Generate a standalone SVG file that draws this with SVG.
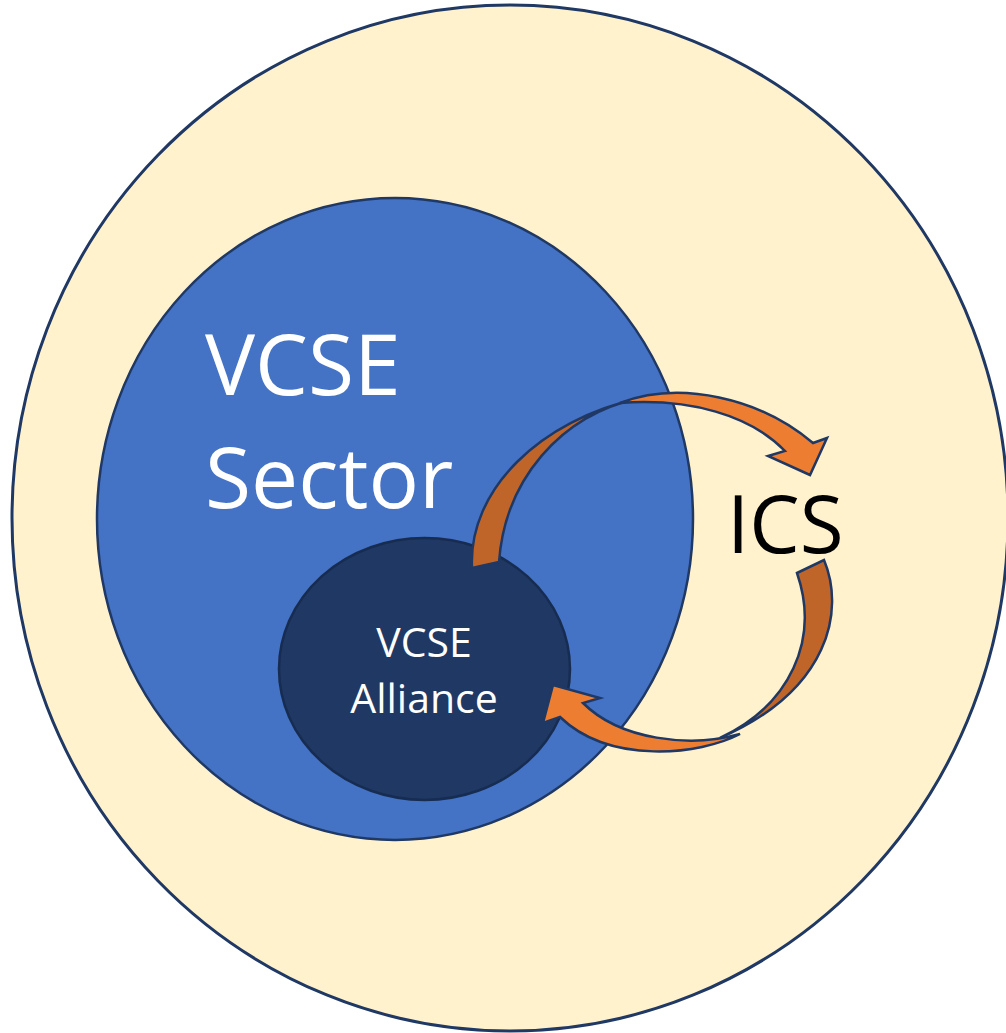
<svg xmlns="http://www.w3.org/2000/svg" width="1006" height="1033" viewBox="0 0 1006 1033">
<style>
.outer{fill:#FFF2CC;stroke:#1F3864;stroke-width:3}
.sector{fill:#4472C4;stroke:#1F3864;stroke-width:2.5}
.alliance{fill:#203864;stroke:#172C51;stroke-width:2.5}
.arrowLight{fill:#ED7D31;stroke:#1F3864;stroke-width:2.5;stroke-linejoin:miter}
.arrowDark{fill:#C0652A;stroke:#1F3864;stroke-width:2.5;stroke-linejoin:miter}
text{font-family:"Open Sans","Noto Sans",sans-serif}
</style>
<g id="ics">
<ellipse class="outer" cx="510" cy="518" rx="498" ry="513"/>
<text x="727" y="553" font-size="80" fill="#000000">ICS</text>
</g>
<g id="vcse-sector">
<ellipse class="sector" cx="395" cy="519" rx="298" ry="321"/>
<text x="205" y="395" font-size="84" fill="#FFFFFF">VCSE</text>
<text x="205" y="508" font-size="84" fill="#FFFFFF">Sector</text>
</g>
<g id="vcse-alliance">
<ellipse class="alliance" cx="424.5" cy="669" rx="145.5" ry="131"/>
<text x="424" y="657" font-size="41" fill="#FFFFFF" text-anchor="middle">VCSE</text>
<text x="424" y="713" font-size="41" fill="#FFFFFF" text-anchor="middle">Alliance</text>
</g>
<g id="connectors">
<path class="arrowDark" d="M 472,568 C 468,490 540,420 640,398 C 560,415 505,480 499,562 Z"/>
<path class="arrowLight" d="M 620,403 C 680,380 760,398 813,443 L 827,438 L 810,475 L 768,456 L 785,451 C 750,415 690,398 620,403 Z"/>
<path class="arrowDark" d="M 797,573 L 824,560 C 845,610 830,690 720,738 C 790,705 820,640 797,573 Z"/>
<path class="arrowLight" d="M 740,734 C 700,755 610,765 560,717 L 543,723 L 553,685 L 600,698 L 583,703 C 620,740 690,748 740,734 Z"/>
</g>
</svg>
